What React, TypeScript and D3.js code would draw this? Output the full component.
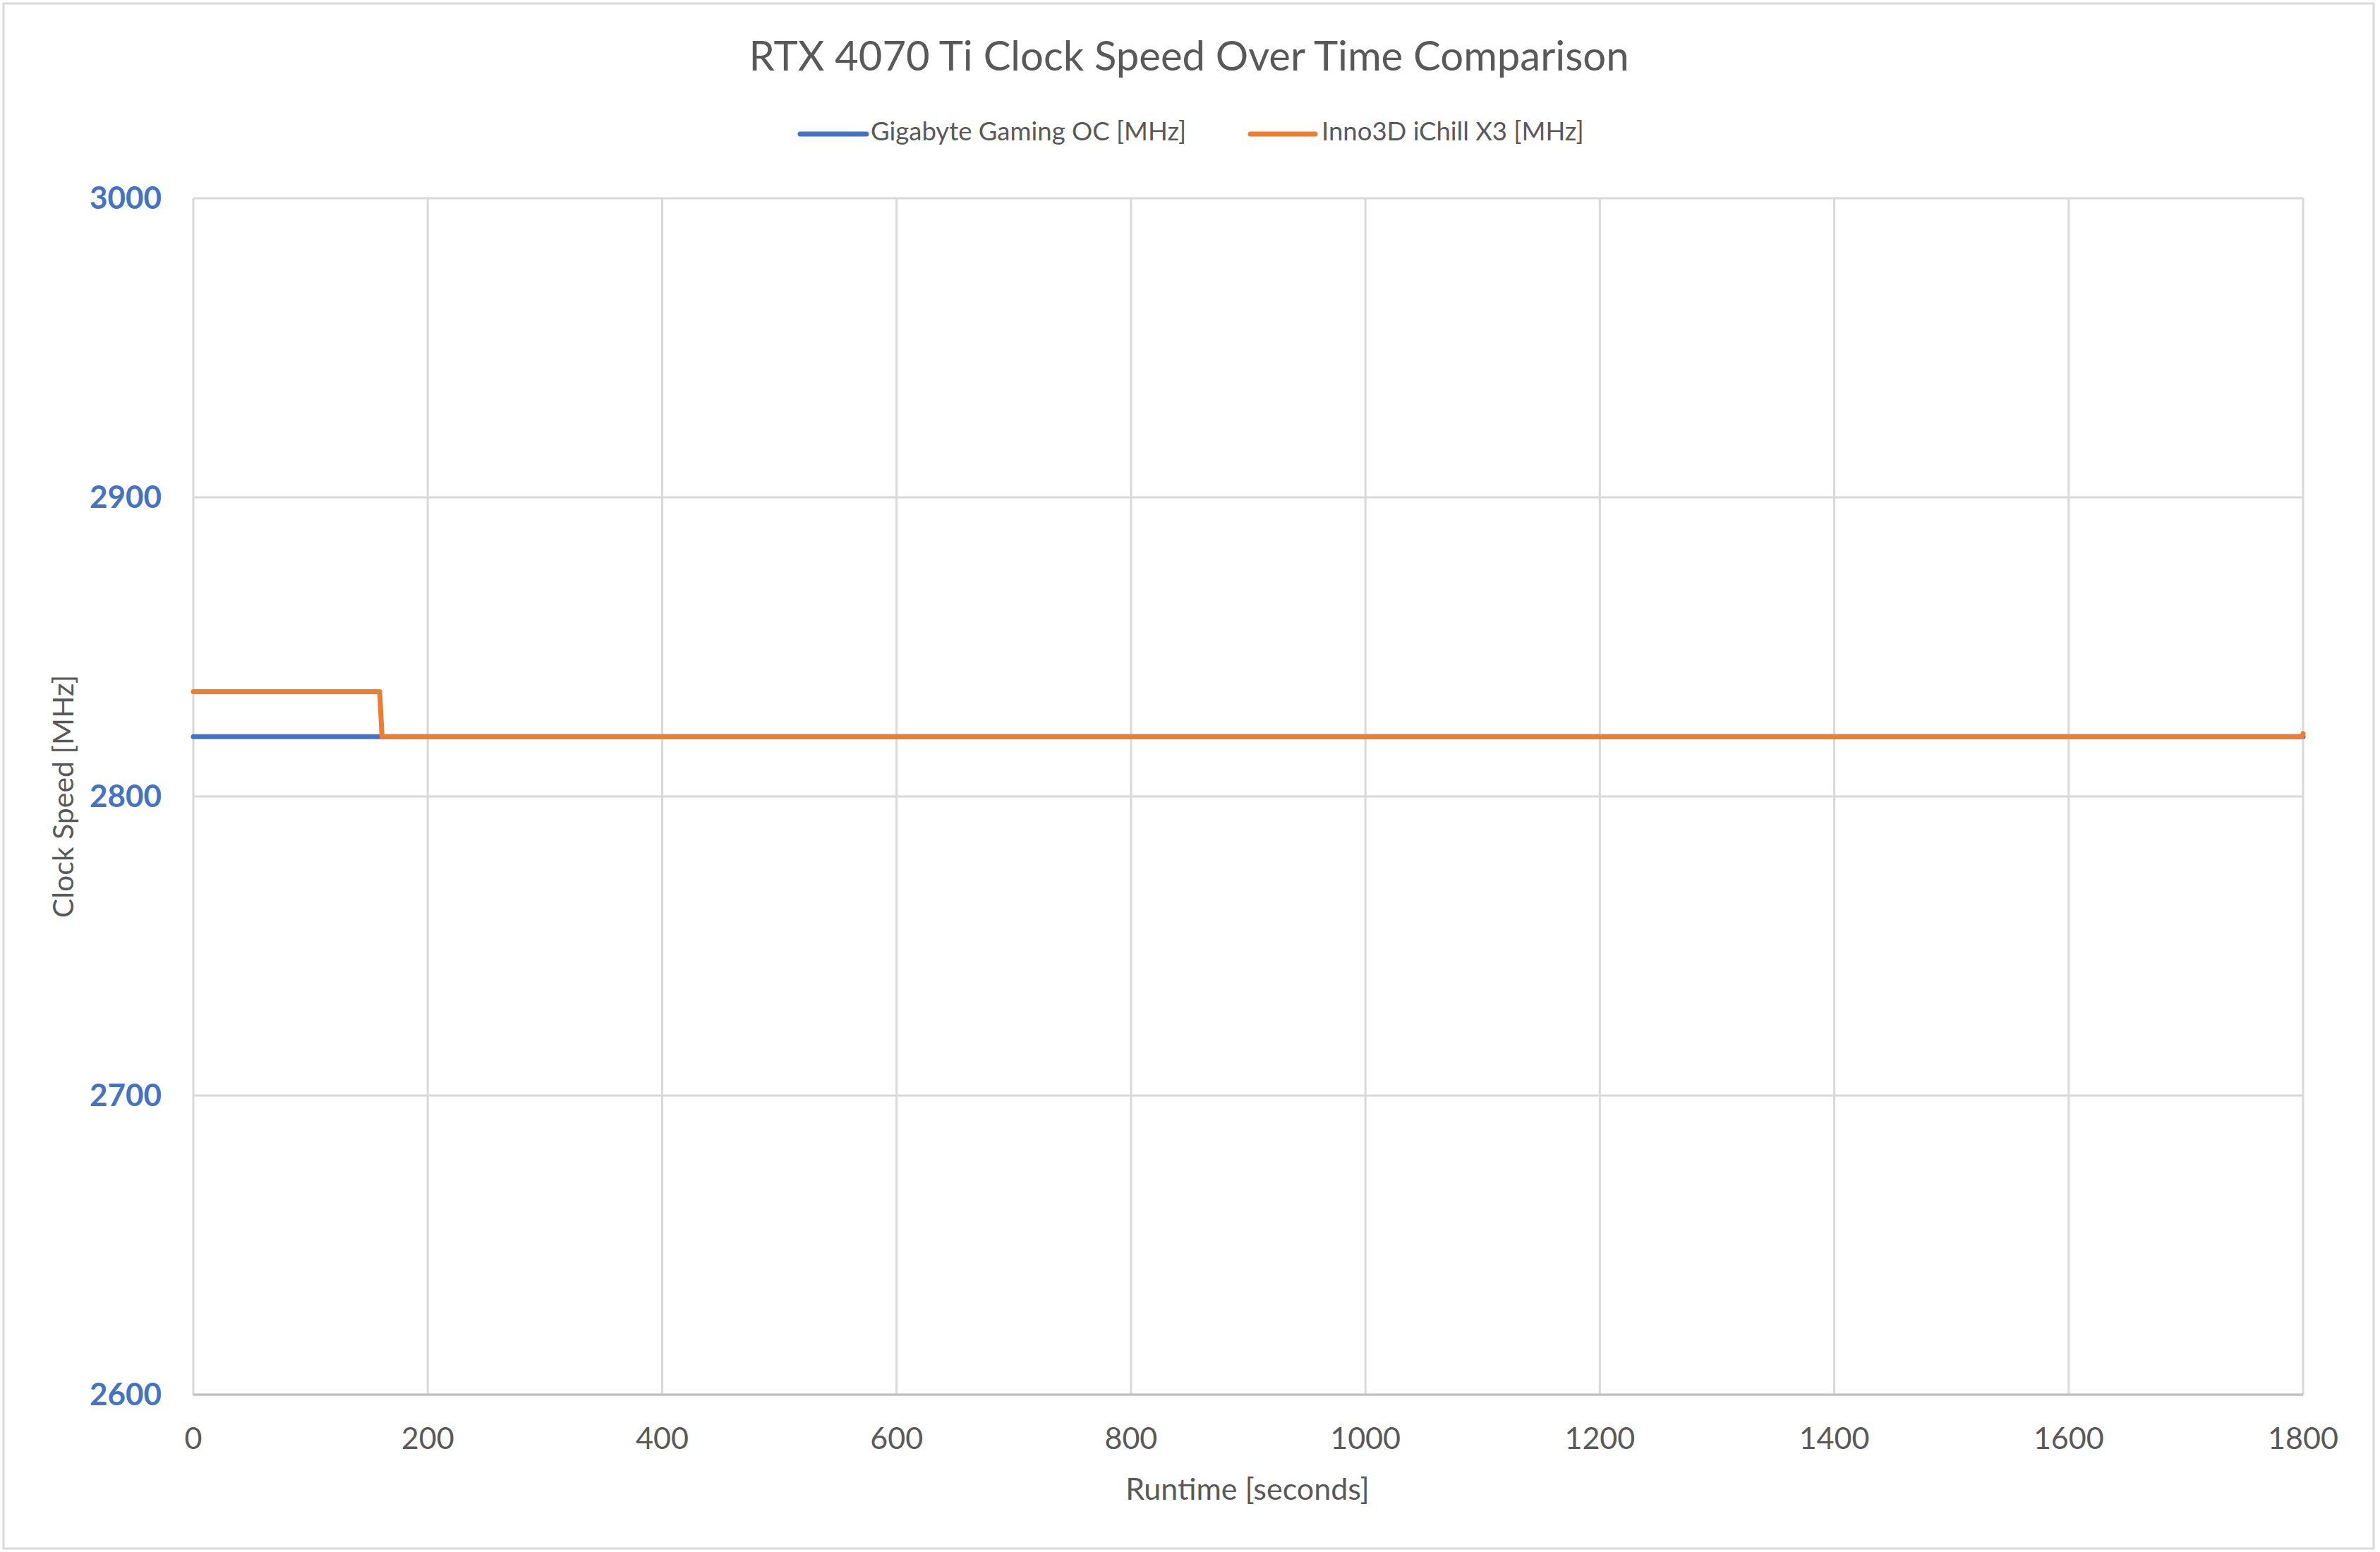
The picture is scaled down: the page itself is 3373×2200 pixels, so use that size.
import React from "react";
import * as d3 from "d3";

// ---- Data ----
const chartTitle = "RTX 4070 Ti Clock Speed Over Time Comparison";
const xAxisTitle = "Runtime [seconds]";
const yAxisTitle = "Clock Speed [MHz]";
const seriesNames = ["Gigabyte Gaming OC [MHz]", "Inno3D iChill X3 [MHz]"];
const seriesColors = ["#4472C4", "#ED7D31"];

// change points (time in seconds, clock in MHz)
const gigabyteTime = [0, 160, 1799, 1800];
const gigabyteClock = [2820, 2820, 2820, 2820];
const inno3dTime = [0, 159, 161, 1799, 1800];
const inno3dClock = [2835, 2835, 2820, 2820, 2821];

const xTicks = [0, 200, 400, 600, 800, 1000, 1200, 1400, 1600, 1800];
const yTicks = [2600, 2700, 2800, 2900, 3000];

const W = 3373;
const H = 2200;
const M = { left: 274, right: 3264, top: 281, bottom: 1977 };
const FONT = "Lato, 'Open Sans', sans-serif";

export default function App() {
  const x = d3.scaleLinear().domain([0, 1800]).range([M.left, M.right]);
  const y = d3.scaleLinear().domain([2600, 3000]).range([M.bottom, M.top]);
  const line = d3
    .line<[number, number]>()
    .x((d) => x(d[0]))
    .y((d) => y(d[1]));

  const series = [
    gigabyteTime.map((t, i) => [t, gigabyteClock[i]] as [number, number]),
    inno3dTime.map((t, i) => [t, inno3dClock[i]] as [number, number]),
  ];

  const legendItems = [
    { lineX1: 1134, lineX2: 1228, textX: 1234 },
    { lineX1: 1772, lineX2: 1864, textX: 1873 },
  ];

  return (
    <svg
      width={W}
      height={H}
      style={{ position: "absolute", left: 0, top: 0, display: "block", background: "#fff" }}
      fontFamily={FONT}
    >
      <rect x={5} y={5} width={3359} height={2190} fill="#fff" stroke="#D9D9D9" strokeWidth={3} />
      <text x={1685} y={100} textAnchor="middle" fontSize={58} fill="#595959">
        {chartTitle}
      </text>

      {/* legend */}
      {seriesNames.map((name, i) => (
        <g key={name}>
          <line
            x1={legendItems[i].lineX1}
            x2={legendItems[i].lineX2}
            y1={190}
            y2={190}
            stroke={seriesColors[i]}
            strokeWidth={7}
            strokeLinecap="round"
          />
          <text x={legendItems[i].textX} y={199} fontSize={36.5} fill="#595959">
            {name}
          </text>
        </g>
      ))}

      {/* gridlines */}
      {yTicks.map((t) => (
        <line key={"gy" + t} x1={M.left} x2={M.right} y1={y(t)} y2={y(t)} stroke="#D9D9D9" strokeWidth={3} />
      ))}
      {xTicks.map((t) => (
        <line key={"gx" + t} x1={x(t)} x2={x(t)} y1={M.top} y2={M.bottom} stroke="#D9D9D9" strokeWidth={3} />
      ))}
      <line x1={M.left} x2={M.right} y1={M.bottom} y2={M.bottom} stroke="#BFBFBF" strokeWidth={3} />

      {/* tick labels */}
      {yTicks.map((t) => (
        <text
          key={"ly" + t}
          x={229}
          y={y(t) + 15}
          textAnchor="end"
          fontSize={44}
          fontWeight="bold"
          fill="#4472C4"
        >
          {t}
        </text>
      ))}
      {xTicks.map((t) => (
        <text key={"lx" + t} x={x(t)} y={2054} textAnchor="middle" fontSize={43} fill="#595959">
          {t}
        </text>
      ))}

      {/* axis titles */}
      <text x={1768} y={2126} textAnchor="middle" fontSize={43} fill="#595959">
        {xAxisTitle}
      </text>
      <text
        transform={`translate(104, ${(M.top + M.bottom) / 2}) rotate(-90)`}
        textAnchor="middle"
        fontSize={41}
        fill="#595959"
      >
        {yAxisTitle}
      </text>

      {/* series */}
      {series.map((s, i) => (
        <path
          key={"s" + i}
          d={line(s) || ""}
          fill="none"
          stroke={seriesColors[i]}
          strokeWidth={7}
          strokeLinejoin="round"
          strokeLinecap="round"
        />
      ))}
    </svg>
  );
}
